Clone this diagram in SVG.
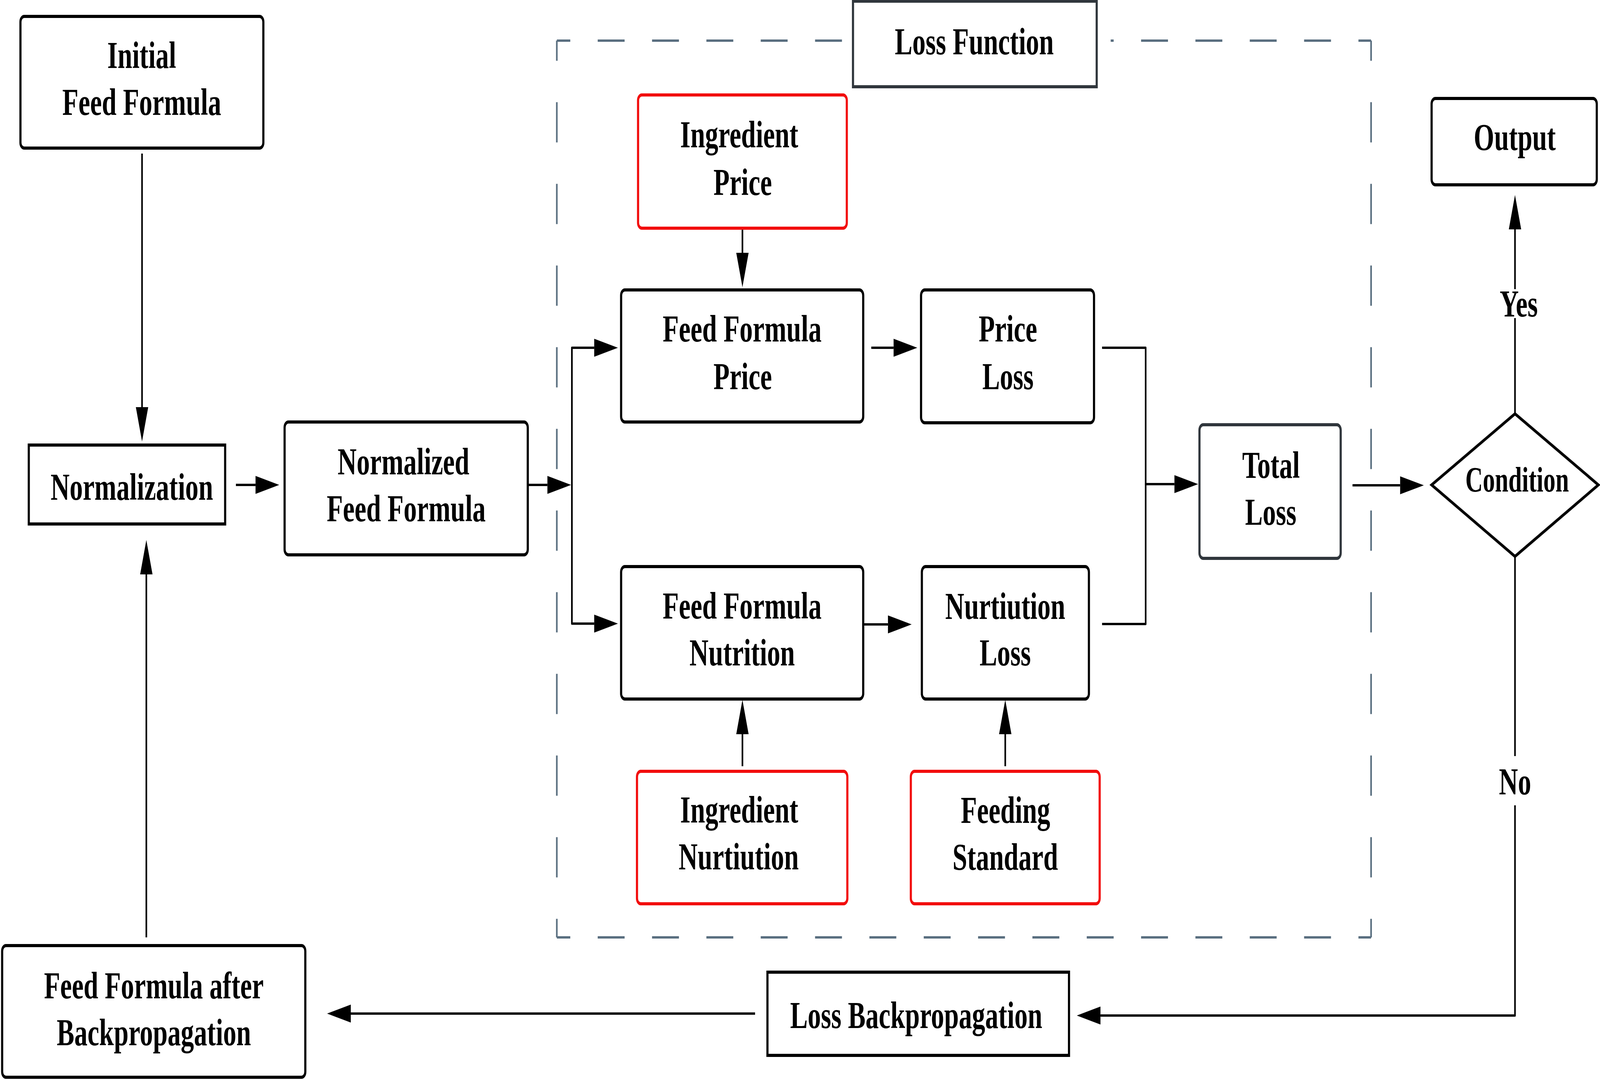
<svg xmlns="http://www.w3.org/2000/svg" width="5948" height="2764" viewBox="0 0 5948 2764" preserveAspectRatio="none">
<style>
svg{width:100vw;height:100vh}
.box{fill:#fff;stroke:#000;stroke-width:8}
.red{fill:#fff;stroke:#f20d0d;stroke-width:8}
.dk{fill:#fff;stroke:#30363c;stroke-width:8}
.t{font-family:"Liberation Serif","Times New Roman",serif;font-weight:bold;font-size:98px;text-anchor:middle;fill:#000}
.c{fill:none;stroke:#000;stroke-width:6;stroke-linejoin:round}
.dh{stroke:#5a6f80;stroke-width:6;stroke-dasharray:100 102;stroke-dashoffset:50}
.dv{stroke:#5a6f80;stroke-width:6;stroke-dasharray:103 106;stroke-dashoffset:51.5}
</style>
<defs>
<marker id="ah" markerUnits="userSpaceOnUse" markerWidth="90" markerHeight="48" refX="0" refY="23" orient="auto" overflow="visible">
<path d="M0,0 L88,23 L0,46 z" fill="#000"/>
</marker>
</defs>
<rect width="5948" height="2764" fill="#fff"/>
<g id="container">
<line class="dh" x1="2070" y1="104" x2="5097" y2="104"/>
<line class="dh" x1="2070" y1="2399" x2="5097" y2="2399"/>
<line class="dv" x1="2070" y1="104" x2="2070" y2="2399"/>
<line class="dv" x1="5097" y1="104" x2="5097" y2="2399"/>
<rect x="3171" y="88" width="958" height="32" fill="#fff"/>
</g>
<g id="connectors">
<path class="c" marker-end="url(#ah)" d="M528,393 V1042"/>
<path class="c" marker-end="url(#ah)" d="M877,1241 H950"/>
<path class="c" marker-end="url(#ah)" d="M1962,1241 H2035"/>
<path class="c" marker-end="url(#ah)" d="M2126,1596 V890 H2209"/>
<path class="c" marker-end="url(#ah)" d="M2126,890 V1596 H2209"/>
<path class="c" marker-end="url(#ah)" d="M2760,575 V647"/>
<path class="c" marker-end="url(#ah)" d="M3239,890 H3322"/>
<path class="c" marker-end="url(#ah)" d="M2760,1961 V1879"/>
<path class="c" marker-end="url(#ah)" d="M3209,1598 H3301"/>
<path class="c" marker-end="url(#ah)" d="M3737,1961 V1879"/>
<path class="c" marker-end="url(#ah)" d="M4097,890 H4259 V1239 H4366"/>
<path class="c" d="M4097,1597 H4259 V1239"/>
<path class="c" marker-end="url(#ah)" d="M5028,1242 H5205"/>
<path class="c" d="M5632,1059 V814"/>
<path class="c" marker-end="url(#ah)" d="M5632,740 V587"/>
<path class="c" d="M5632,1424 V1935"/>
<path class="c" marker-end="url(#ah)" d="M5632,2061 V2599 H4091"/>
<path class="c" marker-end="url(#ah)" d="M2807,2594 H1304"/>
<path class="c" marker-end="url(#ah)" d="M544,2399 V1470"/>
<text class="t" x="5646" y="810">Yes</text>
<text class="t" x="5632" y="2033">No</text>
</g>
<g id="n-initial">
<rect class="box" x="76" y="42" width="903" height="337" rx="14"/>
<text class="t" x="527" y="174">Initial</text>
<text class="t" x="527" y="294">Feed Formula</text>
</g>
<g id="n-normalization">
<rect class="box" x="107" y="1139" width="730" height="202"/>
<text class="t" x="490" y="1279">Normalization</text>
</g>
<g id="n-normalized">
<rect class="box" x="1058" y="1080" width="904" height="340" rx="14"/>
<text class="t" x="1500" y="1214">Normalized</text>
<text class="t" x="1510" y="1334">Feed Formula</text>
</g>
<g id="n-lossfunction">
<rect class="dk" x="3171" y="3" width="906" height="219"/>
<text class="t" x="3622" y="139">Loss Function</text>
</g>
<g id="n-ingprice">
<rect class="red" x="2372" y="243" width="776" height="341" rx="14"/>
<text class="t" x="2748" y="377">Ingredient</text>
<text class="t" x="2761" y="499">Price</text>
</g>
<g id="n-ffprice">
<rect class="box" x="2309" y="742" width="900" height="338" rx="14"/>
<text class="t" x="2759" y="874">Feed Formula</text>
<text class="t" x="2761" y="996">Price</text>
</g>
<g id="n-priceloss">
<rect class="box" x="3424" y="742" width="643" height="340" rx="14"/>
<text class="t" x="3747" y="874">Price</text>
<text class="t" x="3747" y="996">Loss</text>
</g>
<g id="n-ffnutrition">
<rect class="box" x="2309" y="1450" width="900" height="339" rx="14"/>
<text class="t" x="2759" y="1583">Feed Formula</text>
<text class="t" x="2759" y="1703">Nutrition</text>
</g>
<g id="n-nutloss">
<rect class="box" x="3427" y="1450" width="621" height="339" rx="14"/>
<text class="t" x="3737" y="1584">Nurtiution</text>
<text class="t" x="3737" y="1703">Loss</text>
</g>
<g id="n-ingnut">
<rect class="red" x="2368" y="1974" width="782" height="339" rx="14"/>
<text class="t" x="2748" y="2105">Ingredient</text>
<text class="t" x="2746" y="2225">Nurtiution</text>
</g>
<g id="n-feedstd">
<rect class="red" x="3386" y="1974" width="702" height="339" rx="14"/>
<text class="t" x="3738" y="2106">Feeding</text>
<text class="t" x="3737" y="2226">Standard</text>
</g>
<g id="n-total">
<rect class="dk" x="4459" y="1087" width="525" height="342" rx="14"/>
<text class="t" x="4725" y="1223">Total</text>
<text class="t" x="4724" y="1343">Loss</text>
</g>
<g id="n-condition">
<polygon class="box" points="5632,1059 5942,1241 5632,1424 5322,1241"/>
<text class="t" x="5640" y="1258" style="font-size:90px">Condition</text>
</g>
<g id="n-output">
<rect class="box" x="5322" y="252" width="614" height="221" rx="14"/>
<text class="t" x="5631" y="384">Output</text>
</g>
<g id="n-lossbp">
<rect class="box" x="2853" y="2488" width="1121" height="213"/>
<text class="t" x="3406" y="2631">Loss Backpropagation</text>
</g>
<g id="n-ffafter">
<rect class="box" x="8" y="2420" width="1127" height="337" rx="14"/>
<text class="t" x="572" y="2555">Feed Formula after</text>
<text class="t" x="572" y="2675">Backpropagation</text>
</g>
</svg>
